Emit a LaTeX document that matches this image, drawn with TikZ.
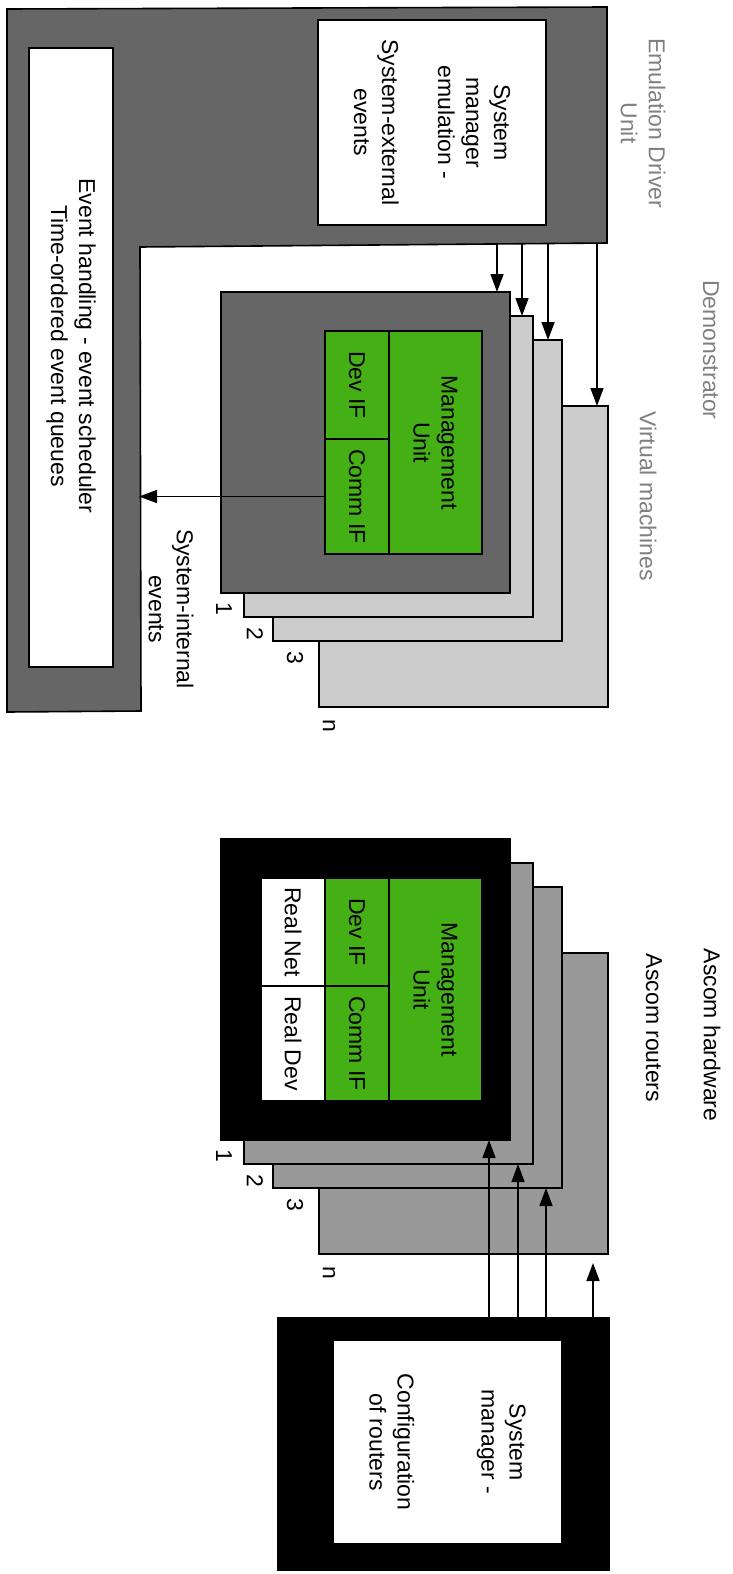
\documentclass[tikz,border=0pt]{standalone}
\usepackage{fontspec}
\setmainfont{Liberation Sans}
\usetikzlibrary{arrows.meta,positioning}
\definecolor{drivergray}{RGB}{102,102,102}
\definecolor{vmgray}{RGB}{204,204,204}
\definecolor{routergray}{RGB}{153,153,153}
\definecolor{mugreen}{RGB}{69,176,21}
\definecolor{labelgray}{RGB}{128,128,128}

\begin{document}
\begin{tikzpicture}[x=1pt, y=-1pt, font=\fontsize{23}{28}\selectfont, line width=1.6pt,
    >={Triangle[length=18pt,width=13pt]},
    box/.style={draw=black, inner sep=0pt, outer sep=0pt, anchor=north west},
    vtext/.style={rotate=-90, align=center, inner sep=0pt}]
  \useasboundingbox (0,0) rectangle (733,1574);

  % emulation driver unit
  \draw[fill=drivergray] (7,9) -- (607,7) -- (607,243) -- (140,247) -- (141,711) -- (7,712) -- cycle;
  \node[box, fill=white, minimum width=228, minimum height=205] (smemu) at (318,20) {};
  \node[vtext] (smemutext) at (smemu.center) {System\\manager\\emulation -\\[28pt]System-external\\events};
  \node[box, fill=white, minimum width=84, minimum height=619] (evq) at (29,48) {};
  \node[vtext] (evqtext) at (71,346) {Event handling - event scheduler\\Time-ordered event queues};

  % virtual machines
  \node[box, fill=vmgray, minimum width=289, minimum height=301] (vmn) at (319,406) {};
  \node[box, fill=vmgray, minimum width=289, minimum height=301] (vm3) at (273,340) {};
  \node[box, fill=vmgray, minimum width=289, minimum height=301] (vm2) at (244,316) {};
  \node[box, fill=drivergray, minimum width=289, minimum height=301] (vm1) at (221,292) {};
  \node[box, fill=mugreen, minimum width=93, minimum height=223] (mu) at (389,331) {};
  \node[vtext] (mutext) at (mu.center) {Management\\Unit};
  \node[box, fill=mugreen, minimum width=64, minimum height=108] (devif) at (325,331) {};
  \node[vtext] (deviftext) at (devif.center) {Dev IF};
  \node[box, fill=mugreen, minimum width=64, minimum height=115] (commif) at (325,439) {};
  \node[vtext] (commiftext) at (commif.center) {Comm IF};
  \node[vtext] (vm1num) at (224,609) {1};
  \node[vtext] (vm2num) at (255,634) {2};
  \node[vtext] (vm3num) at (295,658) {3};
  \node[vtext] (vmnnum) at (329,726) {n};

  % ascom routers
  \node[box, fill=routergray, minimum width=289, minimum height=301] (hwn) at (319,953) {};
  \node[box, fill=routergray, minimum width=289, minimum height=301] (hw3) at (273,887) {};
  \node[box, fill=routergray, minimum width=289, minimum height=301] (hw2) at (244,863) {};
  \node[box, fill=black, minimum width=289, minimum height=301] (hw1) at (221,839) {};
  \node[box, fill=mugreen, minimum width=93, minimum height=223] (hwmu) at (389,878) {};
  \node[vtext] (hwmutext) at (hwmu.center) {Management\\Unit};
  \node[box, fill=mugreen, minimum width=64, minimum height=108] (hwdevif) at (325,878) {};
  \node[vtext] (hwdeviftext) at (hwdevif.center) {Dev IF};
  \node[box, fill=mugreen, minimum width=64, minimum height=115] (hwcommif) at (325,986) {};
  \node[vtext] (hwcommiftext) at (hwcommif.center) {Comm IF};
  \node[box, fill=white, minimum width=64, minimum height=108] (realnet) at (261,878) {};
  \node[vtext] (realnettext) at (realnet.center) {Real Net};
  \node[box, fill=white, minimum width=64, minimum height=115] (realdev) at (261,986) {};
  \node[vtext] (realdevtext) at (realdev.center) {Real Dev};
  \node[vtext] (hw1num) at (224,1156) {1};
  \node[vtext] (hw2num) at (255,1181) {2};
  \node[vtext] (hw3num) at (295,1205) {3};
  \node[vtext] (hwnnum) at (329,1273) {n};

  % system manager for the routers
  \node[box, fill=black, minimum width=331, minimum height=252] (cfg) at (278,1318) {};
  \node[box, fill=white, minimum width=229, minimum height=204] (cfgin) at (333,1340) {};
  \node[vtext] (cfgtext) at (cfgin.center) {System\\manager -\\[56pt]Configuration\\of routers};

  % labels
  \node[vtext, text=labelgray] (drvlabel) at (643,123) {Emulation Driver\\Unit};
  \node[vtext, text=labelgray] (demolabel) at (711,350) {Demonstrator};
  \node[vtext, text=labelgray] (vmlabel) at (648,496) {Virtual machines};
  \node[vtext] (sielabel) at (171,609) {System-internal\\events};
  \node[vtext] (hwlabel) at (712,1035) {Ascom hardware};
  \node[vtext] (rtlabel) at (654,1028) {Ascom routers};

  % connectors
  \coordinate (e1) at (497,243);
  \coordinate (e2) at (522,243);
  \coordinate (e3) at (548,244);
  \coordinate (e4) at (597,244);
  \draw[->] (e1) -- (e1 |- vm1.north);
  \draw[->] (e2) -- (e2 |- vm2.north);
  \draw[->] (e3) -- (e3 |- vm3.north);
  \draw[->] (e4) -- (e4 |- vmn.north);
  \coordinate (drvedge) at (139,0);
  \draw[->] (commif.west) -- (commif.west -| drvedge);
  \coordinate (r1) at (489,0);
  \coordinate (r2) at (518,0);
  \coordinate (r3) at (546,0);
  \coordinate (r4) at (593,0);
  \draw[->] (cfg.north -| r1) -- (r1 |- hw1.south);
  \draw[->] (cfg.north -| r2) -- (r2 |- hw2.south);
  \draw[->] (cfg.north -| r3) -- (r3 |- hw3.south);
  \draw[->, shorten >=9pt] (cfg.north -| r4) -- (r4 |- hwn.south);
\end{tikzpicture}
\end{document}
